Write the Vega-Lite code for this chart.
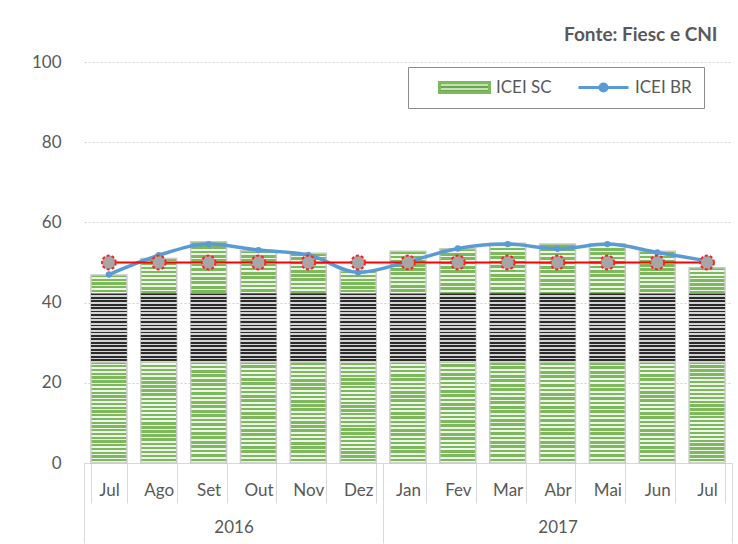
{
  "$schema": "https://vega.github.io/schema/vega-lite/v6.json",
  "width": 648,
  "height": 401,
  "autosize": {"type": "none"},
  "padding": {"left": 84, "top": 62, "right": 6, "bottom": 81},
  "background": "white",
  "config": {"font": "Lato", "view": {"stroke": null}},
  "title": {"text": "Fonte: Fiesc e CNI", "anchor": "end", "fontSize": 19, "fontWeight": "bold", "color": "#595959", "font": "Lato", "offset": 8, "dx": -15},
  "data": {"values": [
    {"key": "Jul 2016", "sc": 46.9, "br": 47.0, "ref": 50},
    {"key": "Ago 2016", "sc": 51.0, "br": 51.8, "ref": 50},
    {"key": "Set 2016", "sc": 55.2, "br": 54.6, "ref": 50},
    {"key": "Out 2016", "sc": 52.9, "br": 53.1, "ref": 50},
    {"key": "Nov 2016", "sc": 52.3, "br": 51.9, "ref": 50},
    {"key": "Dez 2016", "sc": 47.9, "br": 47.5, "ref": 50},
    {"key": "Jan 2017", "sc": 52.8, "br": 50.2, "ref": 50},
    {"key": "Fev 2017", "sc": 53.4, "br": 53.5, "ref": 50},
    {"key": "Mar 2017", "sc": 54.8, "br": 54.6, "ref": 50},
    {"key": "Abr 2017", "sc": 54.6, "br": 53.4, "ref": 50},
    {"key": "Mai 2017", "sc": 54.7, "br": 54.6, "ref": 50},
    {"key": "Jun 2017", "sc": 52.8, "br": 52.5, "ref": 50},
    {"key": "Jul 2017", "sc": 48.7, "br": 50.4, "ref": 50}
  ]},
  "resolve": {"scale": {"x": "independent"}, "axis": {"x": "independent"}},
  "layer": [
    {
      "encoding": {
        "x": {"field": "key", "type": "nominal", "sort": null, "title": null,
          "scale": {"paddingInner": 0.28, "paddingOuter": 0.14},
          "axis": {"orient": "bottom", "labelExpr": "split(datum.label, ' ')[0]", "tickBand": "extent", "tickSize": 40, "tickColor": "#d9d9d9", "domainColor": "#d9d9d9", "labelPadding": -21, "labelAngle": 0, "labelFontSize": 17, "labelColor": "#595959", "labelFont": "Lato", "labelBaseline": "top", "grid": false}
        }
      },
      "layer": [
        {
          "mark": {"type": "bar", "stroke": "#c8c8c8", "strokeWidth": 1.5,
            "fill": {"gradient": "linear", "x1": 0, "y1": 0, "x2": 0, "y2": 1, "stops": [
              {"offset": 0, "color": "#7db85c"}, {"offset": 0.012, "color": "#7db85c"}, {"offset": 0.012, "color": "#eef6e9"}, {"offset": 0.02, "color": "#eef6e9"},
              {"offset": 0.02, "color": "#7db85c"}, {"offset": 0.032, "color": "#7db85c"}, {"offset": 0.032, "color": "#eef6e9"}, {"offset": 0.04, "color": "#eef6e9"},
              {"offset": 0.04, "color": "#7db85c"}, {"offset": 0.052, "color": "#7db85c"}, {"offset": 0.052, "color": "#eef6e9"}, {"offset": 0.06, "color": "#eef6e9"},
              {"offset": 0.06, "color": "#7db85c"}, {"offset": 0.072, "color": "#7db85c"}, {"offset": 0.072, "color": "#eef6e9"}, {"offset": 0.08, "color": "#eef6e9"},
              {"offset": 0.08, "color": "#7db85c"}, {"offset": 0.092, "color": "#7db85c"}, {"offset": 0.092, "color": "#eef6e9"}, {"offset": 0.1, "color": "#eef6e9"},
              {"offset": 0.1, "color": "#7db85c"}, {"offset": 0.112, "color": "#7db85c"}, {"offset": 0.112, "color": "#eef6e9"}, {"offset": 0.12, "color": "#eef6e9"},
              {"offset": 0.12, "color": "#7db85c"}, {"offset": 0.132, "color": "#7db85c"}, {"offset": 0.132, "color": "#eef6e9"}, {"offset": 0.14, "color": "#eef6e9"},
              {"offset": 0.14, "color": "#7db85c"}, {"offset": 0.152, "color": "#7db85c"}, {"offset": 0.152, "color": "#eef6e9"}, {"offset": 0.16, "color": "#eef6e9"},
              {"offset": 0.16, "color": "#7db85c"}, {"offset": 0.172, "color": "#7db85c"}, {"offset": 0.172, "color": "#eef6e9"}, {"offset": 0.18, "color": "#eef6e9"},
              {"offset": 0.18, "color": "#7db85c"}, {"offset": 0.192, "color": "#7db85c"}, {"offset": 0.192, "color": "#eef6e9"}, {"offset": 0.2, "color": "#eef6e9"},
              {"offset": 0.2, "color": "#7db85c"}, {"offset": 0.212, "color": "#7db85c"}, {"offset": 0.212, "color": "#eef6e9"}, {"offset": 0.22, "color": "#eef6e9"},
              {"offset": 0.22, "color": "#7db85c"}, {"offset": 0.232, "color": "#7db85c"}, {"offset": 0.232, "color": "#eef6e9"}, {"offset": 0.24, "color": "#eef6e9"},
              {"offset": 0.24, "color": "#7db85c"}, {"offset": 0.252, "color": "#7db85c"}, {"offset": 0.252, "color": "#eef6e9"}, {"offset": 0.26, "color": "#eef6e9"},
              {"offset": 0.26, "color": "#7db85c"}, {"offset": 0.272, "color": "#7db85c"}, {"offset": 0.272, "color": "#eef6e9"}, {"offset": 0.28, "color": "#eef6e9"},
              {"offset": 0.28, "color": "#7db85c"}, {"offset": 0.292, "color": "#7db85c"}, {"offset": 0.292, "color": "#eef6e9"}, {"offset": 0.3, "color": "#eef6e9"},
              {"offset": 0.3, "color": "#7db85c"}, {"offset": 0.312, "color": "#7db85c"}, {"offset": 0.312, "color": "#eef6e9"}, {"offset": 0.32, "color": "#eef6e9"},
              {"offset": 0.32, "color": "#7db85c"}, {"offset": 0.332, "color": "#7db85c"}, {"offset": 0.332, "color": "#eef6e9"}, {"offset": 0.34, "color": "#eef6e9"},
              {"offset": 0.34, "color": "#7db85c"}, {"offset": 0.352, "color": "#7db85c"}, {"offset": 0.352, "color": "#eef6e9"}, {"offset": 0.36, "color": "#eef6e9"},
              {"offset": 0.36, "color": "#7db85c"}, {"offset": 0.372, "color": "#7db85c"}, {"offset": 0.372, "color": "#eef6e9"}, {"offset": 0.38, "color": "#eef6e9"},
              {"offset": 0.38, "color": "#7db85c"}, {"offset": 0.392, "color": "#7db85c"}, {"offset": 0.392, "color": "#eef6e9"}, {"offset": 0.4, "color": "#eef6e9"},
              {"offset": 0.4, "color": "#7db85c"}, {"offset": 0.412, "color": "#7db85c"}, {"offset": 0.412, "color": "#eef6e9"}, {"offset": 0.42, "color": "#eef6e9"},
              {"offset": 0.42, "color": "#7db85c"}, {"offset": 0.432, "color": "#7db85c"}, {"offset": 0.432, "color": "#eef6e9"}, {"offset": 0.44, "color": "#eef6e9"},
              {"offset": 0.44, "color": "#7db85c"}, {"offset": 0.452, "color": "#7db85c"}, {"offset": 0.452, "color": "#eef6e9"}, {"offset": 0.46, "color": "#eef6e9"},
              {"offset": 0.46, "color": "#7db85c"}, {"offset": 0.472, "color": "#7db85c"}, {"offset": 0.472, "color": "#eef6e9"}, {"offset": 0.48, "color": "#eef6e9"},
              {"offset": 0.48, "color": "#7db85c"}, {"offset": 0.492, "color": "#7db85c"}, {"offset": 0.492, "color": "#eef6e9"}, {"offset": 0.5, "color": "#eef6e9"},
              {"offset": 0.5, "color": "#7db85c"}, {"offset": 0.512, "color": "#7db85c"}, {"offset": 0.512, "color": "#eef6e9"}, {"offset": 0.52, "color": "#eef6e9"},
              {"offset": 0.52, "color": "#7db85c"}, {"offset": 0.532, "color": "#7db85c"}, {"offset": 0.532, "color": "#eef6e9"}, {"offset": 0.54, "color": "#eef6e9"},
              {"offset": 0.54, "color": "#7db85c"}, {"offset": 0.552, "color": "#7db85c"}, {"offset": 0.552, "color": "#eef6e9"}, {"offset": 0.56, "color": "#eef6e9"},
              {"offset": 0.56, "color": "#7db85c"}, {"offset": 0.572, "color": "#7db85c"}, {"offset": 0.572, "color": "#eef6e9"}, {"offset": 0.58, "color": "#eef6e9"},
              {"offset": 0.58, "color": "#7db85c"}, {"offset": 0.592, "color": "#7db85c"}, {"offset": 0.592, "color": "#eef6e9"}, {"offset": 0.6, "color": "#eef6e9"},
              {"offset": 0.6, "color": "#7db85c"}, {"offset": 0.612, "color": "#7db85c"}, {"offset": 0.612, "color": "#eef6e9"}, {"offset": 0.62, "color": "#eef6e9"},
              {"offset": 0.62, "color": "#7db85c"}, {"offset": 0.632, "color": "#7db85c"}, {"offset": 0.632, "color": "#eef6e9"}, {"offset": 0.64, "color": "#eef6e9"},
              {"offset": 0.64, "color": "#7db85c"}, {"offset": 0.652, "color": "#7db85c"}, {"offset": 0.652, "color": "#eef6e9"}, {"offset": 0.66, "color": "#eef6e9"},
              {"offset": 0.66, "color": "#7db85c"}, {"offset": 0.672, "color": "#7db85c"}, {"offset": 0.672, "color": "#eef6e9"}, {"offset": 0.68, "color": "#eef6e9"},
              {"offset": 0.68, "color": "#7db85c"}, {"offset": 0.692, "color": "#7db85c"}, {"offset": 0.692, "color": "#eef6e9"}, {"offset": 0.7, "color": "#eef6e9"},
              {"offset": 0.7, "color": "#7db85c"}, {"offset": 0.712, "color": "#7db85c"}, {"offset": 0.712, "color": "#eef6e9"}, {"offset": 0.72, "color": "#eef6e9"},
              {"offset": 0.72, "color": "#7db85c"}, {"offset": 0.732, "color": "#7db85c"}, {"offset": 0.732, "color": "#eef6e9"}, {"offset": 0.74, "color": "#eef6e9"},
              {"offset": 0.74, "color": "#7db85c"}, {"offset": 0.752, "color": "#7db85c"}, {"offset": 0.752, "color": "#eef6e9"}, {"offset": 0.76, "color": "#eef6e9"},
              {"offset": 0.76, "color": "#7db85c"}, {"offset": 0.772, "color": "#7db85c"}, {"offset": 0.772, "color": "#eef6e9"}, {"offset": 0.78, "color": "#eef6e9"},
              {"offset": 0.78, "color": "#7db85c"}, {"offset": 0.792, "color": "#7db85c"}, {"offset": 0.792, "color": "#eef6e9"}, {"offset": 0.8, "color": "#eef6e9"},
              {"offset": 0.8, "color": "#7db85c"}, {"offset": 0.812, "color": "#7db85c"}, {"offset": 0.812, "color": "#eef6e9"}, {"offset": 0.82, "color": "#eef6e9"},
              {"offset": 0.82, "color": "#7db85c"}, {"offset": 0.832, "color": "#7db85c"}, {"offset": 0.832, "color": "#eef6e9"}, {"offset": 0.84, "color": "#eef6e9"},
              {"offset": 0.84, "color": "#7db85c"}, {"offset": 0.852, "color": "#7db85c"}, {"offset": 0.852, "color": "#eef6e9"}, {"offset": 0.86, "color": "#eef6e9"},
              {"offset": 0.86, "color": "#7db85c"}, {"offset": 0.872, "color": "#7db85c"}, {"offset": 0.872, "color": "#eef6e9"}, {"offset": 0.88, "color": "#eef6e9"},
              {"offset": 0.88, "color": "#7db85c"}, {"offset": 0.892, "color": "#7db85c"}, {"offset": 0.892, "color": "#eef6e9"}, {"offset": 0.9, "color": "#eef6e9"},
              {"offset": 0.9, "color": "#7db85c"}, {"offset": 0.912, "color": "#7db85c"}, {"offset": 0.912, "color": "#eef6e9"}, {"offset": 0.92, "color": "#eef6e9"},
              {"offset": 0.92, "color": "#7db85c"}, {"offset": 0.932, "color": "#7db85c"}, {"offset": 0.932, "color": "#eef6e9"}, {"offset": 0.94, "color": "#eef6e9"},
              {"offset": 0.94, "color": "#7db85c"}, {"offset": 0.952, "color": "#7db85c"}, {"offset": 0.952, "color": "#eef6e9"}, {"offset": 0.96, "color": "#eef6e9"},
              {"offset": 0.96, "color": "#7db85c"}, {"offset": 0.972, "color": "#7db85c"}, {"offset": 0.972, "color": "#eef6e9"}, {"offset": 0.98, "color": "#eef6e9"},
              {"offset": 0.98, "color": "#7db85c"}, {"offset": 0.992, "color": "#7db85c"}, {"offset": 0.992, "color": "#eef6e9"}, {"offset": 1, "color": "#eef6e9"}
            ]}
          },
          "encoding": {
            "y": {"field": "sc", "type": "quantitative", "title": null,
              "scale": {"domain": [0, 100], "nice": false},
              "axis": {"values": [0, 20, 40, 60, 80, 100], "grid": true, "gridDash": [2, 2], "gridColor": "#d0d0d0", "domain": false, "ticks": false, "labelPadding": 23, "labelFontSize": 17, "labelColor": "#595959", "labelFont": "Lato"}
            }
          }
        },
        {
          "mark": {"type": "bar",
            "fill": {"gradient": "linear", "x1": 0, "y1": 0, "x2": 0, "y2": 1, "stops": [
              {"offset": 0, "color": "#2b2b2b"}, {"offset": 0.025, "color": "#2b2b2b"}, {"offset": 0.025, "color": "#d4d4d4"}, {"offset": 0.05, "color": "#d4d4d4"},
              {"offset": 0.05, "color": "#2b2b2b"}, {"offset": 0.075, "color": "#2b2b2b"}, {"offset": 0.075, "color": "#d4d4d4"}, {"offset": 0.1, "color": "#d4d4d4"},
              {"offset": 0.1, "color": "#2b2b2b"}, {"offset": 0.125, "color": "#2b2b2b"}, {"offset": 0.125, "color": "#d4d4d4"}, {"offset": 0.15, "color": "#d4d4d4"},
              {"offset": 0.15, "color": "#2b2b2b"}, {"offset": 0.175, "color": "#2b2b2b"}, {"offset": 0.175, "color": "#d4d4d4"}, {"offset": 0.2, "color": "#d4d4d4"},
              {"offset": 0.2, "color": "#2b2b2b"}, {"offset": 0.225, "color": "#2b2b2b"}, {"offset": 0.225, "color": "#d4d4d4"}, {"offset": 0.25, "color": "#d4d4d4"},
              {"offset": 0.25, "color": "#2b2b2b"}, {"offset": 0.275, "color": "#2b2b2b"}, {"offset": 0.275, "color": "#d4d4d4"}, {"offset": 0.3, "color": "#d4d4d4"},
              {"offset": 0.3, "color": "#2b2b2b"}, {"offset": 0.325, "color": "#2b2b2b"}, {"offset": 0.325, "color": "#d4d4d4"}, {"offset": 0.35, "color": "#d4d4d4"},
              {"offset": 0.35, "color": "#2b2b2b"}, {"offset": 0.375, "color": "#2b2b2b"}, {"offset": 0.375, "color": "#d4d4d4"}, {"offset": 0.4, "color": "#d4d4d4"},
              {"offset": 0.4, "color": "#2b2b2b"}, {"offset": 0.425, "color": "#2b2b2b"}, {"offset": 0.425, "color": "#d4d4d4"}, {"offset": 0.45, "color": "#d4d4d4"},
              {"offset": 0.45, "color": "#2b2b2b"}, {"offset": 0.475, "color": "#2b2b2b"}, {"offset": 0.475, "color": "#d4d4d4"}, {"offset": 0.5, "color": "#d4d4d4"},
              {"offset": 0.5, "color": "#2b2b2b"}, {"offset": 0.525, "color": "#2b2b2b"}, {"offset": 0.525, "color": "#d4d4d4"}, {"offset": 0.55, "color": "#d4d4d4"},
              {"offset": 0.55, "color": "#2b2b2b"}, {"offset": 0.575, "color": "#2b2b2b"}, {"offset": 0.575, "color": "#d4d4d4"}, {"offset": 0.6, "color": "#d4d4d4"},
              {"offset": 0.6, "color": "#2b2b2b"}, {"offset": 0.625, "color": "#2b2b2b"}, {"offset": 0.625, "color": "#d4d4d4"}, {"offset": 0.65, "color": "#d4d4d4"},
              {"offset": 0.65, "color": "#2b2b2b"}, {"offset": 0.675, "color": "#2b2b2b"}, {"offset": 0.675, "color": "#d4d4d4"}, {"offset": 0.7, "color": "#d4d4d4"},
              {"offset": 0.7, "color": "#2b2b2b"}, {"offset": 0.725, "color": "#2b2b2b"}, {"offset": 0.725, "color": "#d4d4d4"}, {"offset": 0.75, "color": "#d4d4d4"},
              {"offset": 0.75, "color": "#2b2b2b"}, {"offset": 0.775, "color": "#2b2b2b"}, {"offset": 0.775, "color": "#d4d4d4"}, {"offset": 0.8, "color": "#d4d4d4"},
              {"offset": 0.8, "color": "#2b2b2b"}, {"offset": 0.825, "color": "#2b2b2b"}, {"offset": 0.825, "color": "#d4d4d4"}, {"offset": 0.85, "color": "#d4d4d4"},
              {"offset": 0.85, "color": "#2b2b2b"}, {"offset": 0.875, "color": "#2b2b2b"}, {"offset": 0.875, "color": "#d4d4d4"}, {"offset": 0.9, "color": "#d4d4d4"},
              {"offset": 0.9, "color": "#2b2b2b"}, {"offset": 0.925, "color": "#2b2b2b"}, {"offset": 0.925, "color": "#d4d4d4"}, {"offset": 0.95, "color": "#d4d4d4"},
              {"offset": 0.95, "color": "#2b2b2b"}, {"offset": 0.975, "color": "#2b2b2b"}, {"offset": 0.975, "color": "#d4d4d4"}, {"offset": 1, "color": "#d4d4d4"}
            ]}
          },
          "encoding": {
            "y": {"datum": 25, "type": "quantitative", "title": null},
            "y2": {"datum": 42.3}
          }
        },
        {
          "mark": {"type": "line", "interpolate": "monotone", "strokeWidth": 3.5},
          "encoding": {
            "y": {"field": "br", "type": "quantitative", "title": null},
            "color": {"datum": "ICEI BR", "type": "nominal",
              "scale": {"domain": ["ICEI SC", "ICEI BR"], "range": ["#7db85c", "#5b9bd5"]},
              "legend": {"orient": "none", "legendX": 324, "legendY": 5, "direction": "horizontal", "title": null,
                "padding": 12, "strokeColor": "#8c8c8c", "fillColor": "white", "clipHeight": 17,
                "symbolOffset": 18, "columnPadding": 7, "labelOffset": 5, "labelFontSize": 17, "labelFont": "Lato", "labelColor": "#595959",
                "symbolSize": 2500,
                "encode": {"symbols": {"update": {
                  "shape": [{"test": "datum.value === 'ICEI SC'", "value": "M-1,-0.2H1V0.2H-1Z"}, {"value": "M-1,0H1M0.14,0A0.14,0.14 0 1,1 -0.14,0A0.14,0.14 0 1,1 0.14,0"}],
                  "fill": [{"test": "datum.value === 'ICEI SC'", "value": {"gradient": "linear", "x1": 0, "y1": 0, "x2": 0, "y2": 1, "stops": [
                    {"offset": 0, "color": "#6aa84f"}, {"offset": 0.2, "color": "#6aa84f"}, {"offset": 0.2, "color": "#c6e0b4"}, {"offset": 0.4, "color": "#c6e0b4"},
                    {"offset": 0.4, "color": "#6aa84f"}, {"offset": 0.6, "color": "#6aa84f"}, {"offset": 0.6, "color": "#c6e0b4"}, {"offset": 0.8, "color": "#c6e0b4"},
                    {"offset": 0.8, "color": "#6aa84f"}, {"offset": 1, "color": "#6aa84f"}]}}, {"value": "#5b9bd5"}],
                  "stroke": [{"test": "datum.value === 'ICEI SC'", "value": "transparent"}, {"value": "#5b9bd5"}],
                  "strokeWidth": {"value": 3},
                  "opacity": {"value": 1},
                  "fillOpacity": {"value": 1}
                }}}
              }
            }
          }
        },
        {
          "mark": {"type": "point", "filled": true, "color": "#5b9bd5", "size": 40, "opacity": 1},
          "encoding": {"y": {"field": "br", "type": "quantitative", "title": null}}
        },
        {
          "mark": {"type": "line", "color": "#ff0000", "strokeWidth": 2},
          "encoding": {"y": {"field": "ref", "type": "quantitative", "title": null}}
        },
        {
          "mark": {"type": "point", "shape": "circle", "size": 190, "filled": true, "fill": "#a6a6a6", "stroke": "#ff2020", "strokeWidth": 2, "strokeDash": [3, 2], "opacity": 1},
          "encoding": {"y": {"field": "ref", "type": "quantitative", "title": null}}
        }
      ]
    },
    {
      "transform": [{"window": [{"op": "row_number", "as": "idx"}]}],
      "mark": {"type": "point", "opacity": 0},
      "encoding": {
        "x": {"field": "idx", "type": "quantitative", "title": null,
          "scale": {"domain": [0.5, 13.5], "nice": false, "zero": false},
          "axis": {"orient": "bottom", "values": [0.5, 3.5, 6.5, 10, 13.5], "grid": false, "domain": false,
            "tickSize": 80, "tickColor": "#d9d9d9",
            "tickOpacity": {"condition": {"test": "datum.value == 3.5 || datum.value == 10", "value": 0}, "value": 1},
            "labelExpr": "datum.value == 3.5 ? '2016' : (datum.value == 10 ? '2017' : '')",
            "labelPadding": -24, "labelFontSize": 17, "labelColor": "#595959", "labelFont": "Lato", "labelBaseline": "top",
            "labelAlign": "center", "labelFlush": false, "labelOverlap": false, "labelBound": false}
        }
      }
    }
  ]
}
